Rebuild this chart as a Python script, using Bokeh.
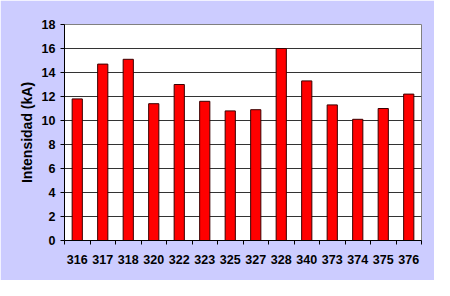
from bokeh.plotting import figure
from bokeh.models import ColumnDataSource, FixedTicker, Range1d
from bokeh.embed import file_html
from bokeh.resources import INLINE

categories = ["316", "317", "318", "320", "322", "323", "325", "327", "328", "340", "373", "374", "375", "376"]
values = [11.8, 14.7, 15.1, 11.4, 13.0, 11.6, 10.8, 10.9, 16.0, 13.3, 11.3, 10.1, 11.0, 12.2]
y_ticks = [0, 2, 4, 6, 8, 10, 12, 14, 16, 18]
y_label = "Intensidad (kA)"

n = len(categories)
centers = [i + 0.5 for i in range(n)]
bounds = list(range(n + 1))

src = ColumnDataSource(dict(x=centers, top=values, cat=categories))

p = figure(width=434, height=280, output_backend="svg", toolbar_location=None,
           x_range=Range1d(0, n), y_range=Range1d(0, 18),
           min_border_left=64, min_border_right=13, min_border_top=24, min_border_bottom=40,
           background_fill_color="white", border_fill_color="#CCCCFF")

p.vbar(x="x", top="top", width=0.4, bottom=0, source=src,
       fill_color="#FF0000", line_color="#3a0000", line_width=1)

p.outline_line_color = "#808080"
p.outline_line_width = 1

# y axis
p.yaxis.ticker = FixedTicker(ticks=y_ticks)
p.yaxis.axis_label = y_label
p.yaxis.axis_label_text_font = "Liberation Sans"
p.yaxis.axis_label_text_font_style = "bold"
p.yaxis.axis_label_text_font_size = "14px"
p.yaxis.axis_label_text_color = "black"
p.yaxis.axis_label_standoff = 4
p.yaxis.major_label_text_font = "Liberation Sans"
p.yaxis.major_label_text_font_style = "bold"
p.yaxis.major_label_text_font_size = "12.5px"
p.yaxis.major_label_text_color = "black"
p.yaxis.major_tick_out = 4
p.yaxis.major_tick_in = 0
p.yaxis.minor_tick_out = 0
p.yaxis.minor_tick_in = 0
p.yaxis.axis_line_color = "black"
p.yaxis.major_tick_line_color = "black"
p.yaxis.major_label_standoff = 5

# x axis: labels at centers, ticks at category boundaries
p.xaxis.ticker = FixedTicker(ticks=centers, minor_ticks=bounds)
p.xaxis.major_label_overrides = {c: cat for c, cat in zip(centers, categories)}
p.xaxis.major_tick_out = 0
p.xaxis.major_tick_in = 0
p.xaxis.minor_tick_out = 4
p.xaxis.minor_tick_in = 0
p.xaxis.minor_tick_line_color = "black"
p.xaxis.axis_line_color = "black"
p.xaxis.major_label_text_font = "Liberation Sans"
p.xaxis.major_label_text_font_style = "bold"
p.xaxis.major_label_text_font_size = "12.5px"
p.xaxis.major_label_text_color = "black"
p.xaxis.major_label_standoff = 10

p.xgrid.visible = False
p.ygrid.ticker = FixedTicker(ticks=y_ticks)
p.ygrid.grid_line_color = "#333333"
p.ygrid.grid_line_width = 1

open("out.html", "w").write(file_html(p, INLINE))
